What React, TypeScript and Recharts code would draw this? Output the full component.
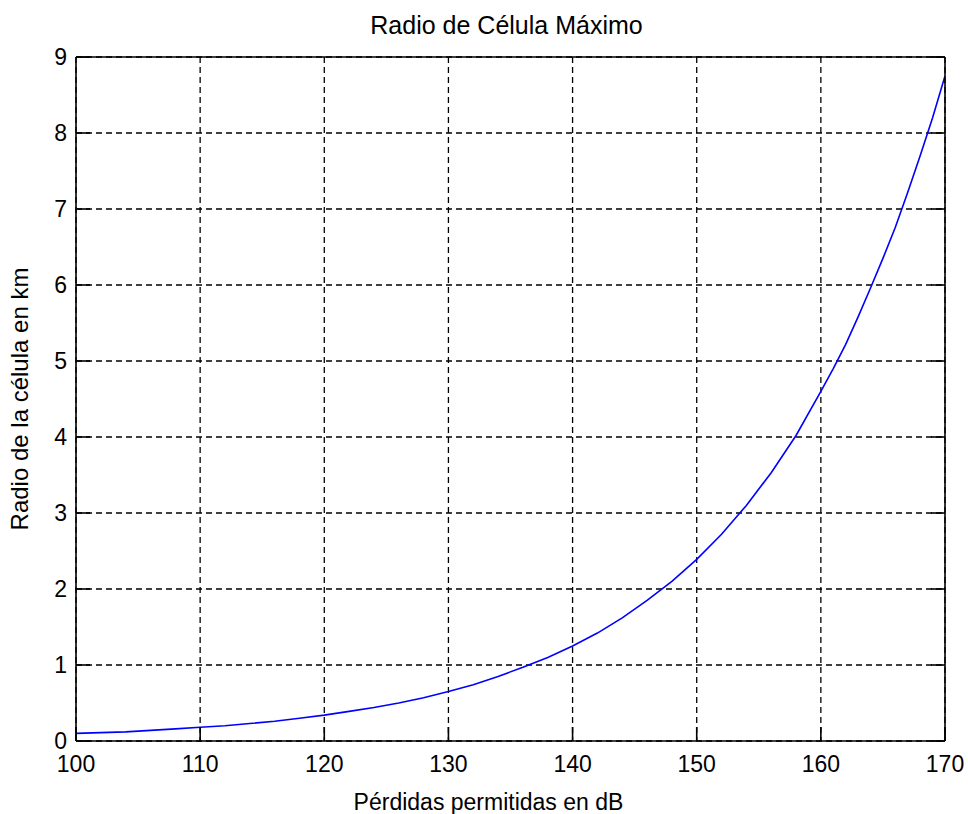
import { LineChart, Line, XAxis, YAxis, CartesianGrid, Label } from 'recharts';

// Pérdidas permitidas (dB) → radio máximo de la célula (km)
const PERDIDAS = [
  100, 102, 104, 106, 108, 110, 112, 114, 116, 118, 120, 122, 124, 126, 128, 130, 132, 134,
  136, 138, 140, 142, 144, 146, 148, 150, 152, 154, 156, 158, 160, 161, 162, 163, 164, 165,
  166, 167, 168, 169, 170];
const RADIO = [
  0.10, 0.11, 0.12, 0.14, 0.16, 0.18, 0.20, 0.23, 0.26, 0.30, 0.34, 0.39, 0.44, 0.50, 0.57,
  0.65, 0.74, 0.85, 0.97, 1.10, 1.25, 1.42, 1.62, 1.85, 2.10, 2.39, 2.72, 3.10, 3.53, 4.02,
  4.60, 4.90, 5.22, 5.58, 5.96, 6.35, 6.76, 7.22, 7.70, 8.20, 8.75];

const X_TICKS = [100, 110, 120, 130, 140, 150, 160, 170];
const Y_TICKS = [0, 1, 2, 3, 4, 5, 6, 7, 8, 9];

const TITLE = 'Radio de Célula Máximo';
const X_LABEL = 'Pérdidas permitidas en dB';
const Y_LABEL = 'Radio de la célula en km';

const FONT = '"Liberation Sans", Arial, sans-serif';
const TICK_STYLE = { fontSize: 23, fill: '#000', fontFamily: FONT };
const AXIS_STROKE = { stroke: '#000', strokeWidth: 1.6 };

const data = PERDIDAS.map((db, i) => ({ db, radio: RADIO[i] }));

export default function App() {
  return (
    <div style={{ position: 'absolute', left: 0, top: 0, background: '#fff' }}>
      <LineChart
        width={968}
        height={814}
        data={data}
        margin={{ top: 56, right: 22, bottom: 0, left: 0 }}>

        <CartesianGrid stroke="#000" strokeWidth={1.3} strokeDasharray="6 4" />

        <XAxis
          dataKey="db"
          type="number"
          domain={[100, 170]}
          allowDataOverflow
          ticks={X_TICKS}
          interval={0}
          height={73}
          tickSize={-14}
          tickMargin={29}
          tick={TICK_STYLE}
          tickLine={AXIS_STROKE}
          axisLine={AXIS_STROKE}>
          <Label
            value={X_LABEL}
            position="insideBottom"
            offset={4}
            dx={-22}
            style={{ fontSize: 23, fill: '#000', fontFamily: FONT }} />
        </XAxis>

        {/* top frame edge with inward ticks, no labels */}
        <XAxis
          xAxisId="top"
          orientation="top"
          type="number"
          domain={[100, 170]}
          allowDataOverflow
          ticks={X_TICKS}
          interval={0}
          height={1}
          tickSize={-14}
          tickFormatter={() => ''}
          tickLine={AXIS_STROKE}
          axisLine={AXIS_STROKE}>
          <Label
            value={TITLE}
            position="top"
            offset={22}
            dx={-4}
            style={{ fontSize: 25, fill: '#000', fontFamily: FONT }} />
        </XAxis>

        <YAxis
          type="number"
          domain={[0, 9]}
          allowDataOverflow
          ticks={Y_TICKS}
          interval={0}
          width={76}
          tickSize={-14}
          tickMargin={23}
          tick={TICK_STYLE}
          tickLine={AXIS_STROKE}
          axisLine={AXIS_STROKE}>
          <Label
            value={Y_LABEL}
            angle={-90}
            position="insideLeft"
            offset={22}
            dx={-3}
            style={{ fontSize: 24, fill: '#000', fontFamily: FONT, textAnchor: 'middle' }} />
        </YAxis>

        {/* right frame edge with inward ticks, no labels */}
        <YAxis
          yAxisId="right"
          orientation="right"
          type="number"
          domain={[0, 9]}
          allowDataOverflow
          ticks={Y_TICKS}
          interval={0}
          width={1}
          tickSize={-14}
          tickFormatter={() => ''}
          tickLine={AXIS_STROKE}
          axisLine={AXIS_STROKE} />

        <Line
          type="linear"
          dataKey="radio"
          stroke="#0000ff"
          strokeWidth={1.6}
          dot={false}
          isAnimationActive={false} />
      </LineChart>
    </div>);

}
